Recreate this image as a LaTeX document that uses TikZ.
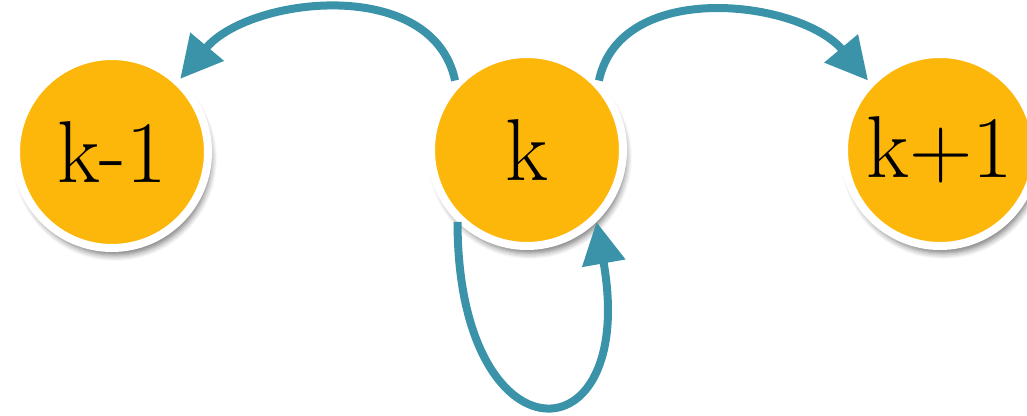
\documentclass[tikz,border=0pt]{standalone}
\usepackage{tikz}
\usetikzlibrary{arrows.meta, shadows.blur}
\definecolor{stateyellow}{RGB}{253,183,11}
\definecolor{edgeteal}{RGB}{58,147,168}

\begin{document}
\begin{tikzpicture}[
    state/.style = {circle, draw=white, fill=stateyellow, line width=0.08cm, minimum size=1.92cm, inner sep=0pt, font=\fontsize{25}{30}\selectfont, blur shadow={shadow xshift=0.03cm, shadow yshift=-0.07cm, shadow blur steps=6, shadow opacity=55}},
    arrow/.style = {draw=edgeteal, line width=0.08cm, -{Triangle[length=0.42cm, width=0.42cm]}}
]
\useasboundingbox (0,0) rectangle (10.27,4.15);

% States
\node (st_prev) [state, at={(1.12, 2.63)}] {k-1};
\node (st_cur) [state, at={(5.27, 2.65)}] {k};
\node (st_next) [state, at={(9.40, 2.65)}] {k+1};

% Transitions
\draw [arrow] (st_cur.136) to[out=102, in=50] (st_prev.47);
\draw [arrow] (st_cur.44) to[out=78, in=130] (st_next.136);
\draw [arrow] (st_cur.226) to[out=-90, in=-80, looseness=4.5] (st_cur.314);

\end{tikzpicture}
\end{document}
